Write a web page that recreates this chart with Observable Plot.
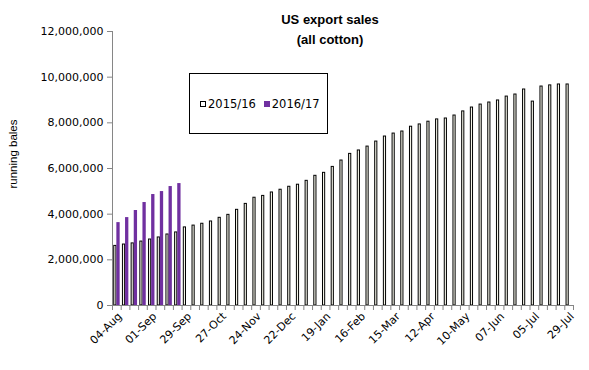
<!DOCTYPE html>
<html><head><meta charset="utf-8">
<script src="https://cdn.jsdelivr.net/npm/d3@7"></script>
<script src="https://cdn.jsdelivr.net/npm/@observablehq/plot@0.6"></script>
<style>
body{margin:0;background:#fff;}
#wrap{position:relative;width:589px;height:370px;overflow:hidden;background:#fff;}
#chart svg{display:block;}
.title{position:absolute;left:230px;width:200px;top:10px;text-align:center;font:bold 13px "Liberation Sans",Arial,sans-serif;line-height:20px;color:#000;}
.ylab{position:absolute;left:13px;top:154px;transform:translate(-50%,-50%) rotate(-90deg);white-space:nowrap;font:11.5px "Liberation Sans",Arial,sans-serif;color:#000;}
.legend{position:absolute;left:189px;top:73px;width:139px;height:61px;border:1px solid #000;background:#fff;display:flex;align-items:center;padding-left:10px;box-sizing:border-box;font:11.5px "DejaVu Sans",sans-serif;color:#000;}
.sw{display:inline-block;width:6px;height:6px;margin-right:2px;vertical-align:middle;box-sizing:border-box;}
.item{margin-right:8px;white-space:nowrap;}
</style></head>
<body>
<div id="wrap">
  <div id="chart"></div>
  <div class="title">US export sales<br>(all cotton)</div>
  <div class="ylab">running bales</div>
  <div class="legend" id="legend"></div>
</div>
<script>
const categories = ["04-Aug","11-Aug","18-Aug","25-Aug","01-Sep","08-Sep","15-Sep","22-Sep","29-Sep","06-Oct","13-Oct","20-Oct","27-Oct","03-Nov","10-Nov","17-Nov","24-Nov","01-Dec","08-Dec","15-Dec","22-Dec","29-Dec","05-Jan","12-Jan","19-Jan","26-Jan","02-Feb","09-Feb","16-Feb","23-Feb","01-Mar","08-Mar","15-Mar","22-Mar","29-Mar","05-Apr","12-Apr","19-Apr","26-Apr","03-May","10-May","17-May","24-May","31-May","07-Jun","14-Jun","21-Jun","28-Jun","05-Jul","12-Jul","19-Jul","26-Jul","29-Jul"];
const sales1516 = [2610000,2670000,2720000,2800000,2890000,2980000,3110000,3200000,3420000,3500000,3580000,3680000,3840000,3970000,4190000,4450000,4720000,4800000,4950000,5070000,5200000,5290000,5460000,5680000,5810000,6070000,6350000,6640000,6790000,6960000,7180000,7400000,7530000,7620000,7830000,7930000,8050000,8150000,8190000,8320000,8500000,8670000,8800000,8890000,8980000,9150000,9240000,9460000,8930000,9590000,9640000,9680000,9680000];
const sales1617 = [3630000,3850000,4160000,4510000,4860000,4990000,5210000,5340000];
const seriesNames = ["2015/16","2016/17"];
const seriesColors = ["#f4f4e8","#7030a0"];
const yTicks = [0,2000000,4000000,6000000,8000000,10000000,12000000];
const labelIndex = [0,4,8,12,16,20,24,28,32,36,40,44,48,52];

const n = categories.length;
const rows1516 = sales1516.map((v,i)=>({i, cat: categories[i], v}));
const rows1617 = sales1617.map((v,i)=>({i, cat: categories[i], v}));

const chart = Plot.plot({
  width: 589, height: 370,
  marginLeft: 112, marginRight: 16, marginTop: 31, marginBottom: 65,
  style: {fontFamily: '"DejaVu Sans", sans-serif', fontSize: "11px", background: "#fff", color: "#000", overflow: "visible"},
  x: {domain: [0, n], axis: null},
  y: {domain: [0, 12000000], axis: null},
  marks: [
    Plot.rect(rows1516, {x1: d => d.i + 0.2, x2: d => d.i + 0.45, y1: 0, y2: "v", fill: seriesColors[0], stroke: "#000", strokeWidth: 1}),
    Plot.rect(rows1617, {x1: d => d.i + 0.5, x2: d => d.i + 0.88, y1: 0, y2: "v", fill: seriesColors[1]}),
    Plot.axisY({ticks: yTicks, tickFormat: d3.format(","), tickSize: 5, tickPadding: 4, stroke: "#868686", label: null}),
    Plot.ruleX([0], {stroke: "#868686"}),
    Plot.ruleY([0], {stroke: "#868686"}),
    Plot.axisX({ticks: d3.range(0, n + 1), tickSize: 5, tickFormat: () => "", stroke: "#868686", label: null}),
    Plot.axisX({ticks: labelIndex.map(i => i + 0.5), tickSize: 0, tickPadding: 9, dx: 3, tickFormat: t => categories[Math.round(t - 0.5)], tickRotate: -45, label: null})
  ]
});
document.getElementById("chart").appendChild(chart);

const legend = document.getElementById("legend");
seriesNames.forEach((name, k) => {
  const it = document.createElement("span");
  it.className = "item";
  const sw = document.createElement("span");
  sw.className = "sw";
  sw.style.background = k === 0 ? "#fff" : seriesColors[1];
  if (k === 0) sw.style.border = "1px solid #000";
  it.appendChild(sw);
  it.appendChild(document.createTextNode(name));
  legend.appendChild(it);
});
</script>
</body></html>
